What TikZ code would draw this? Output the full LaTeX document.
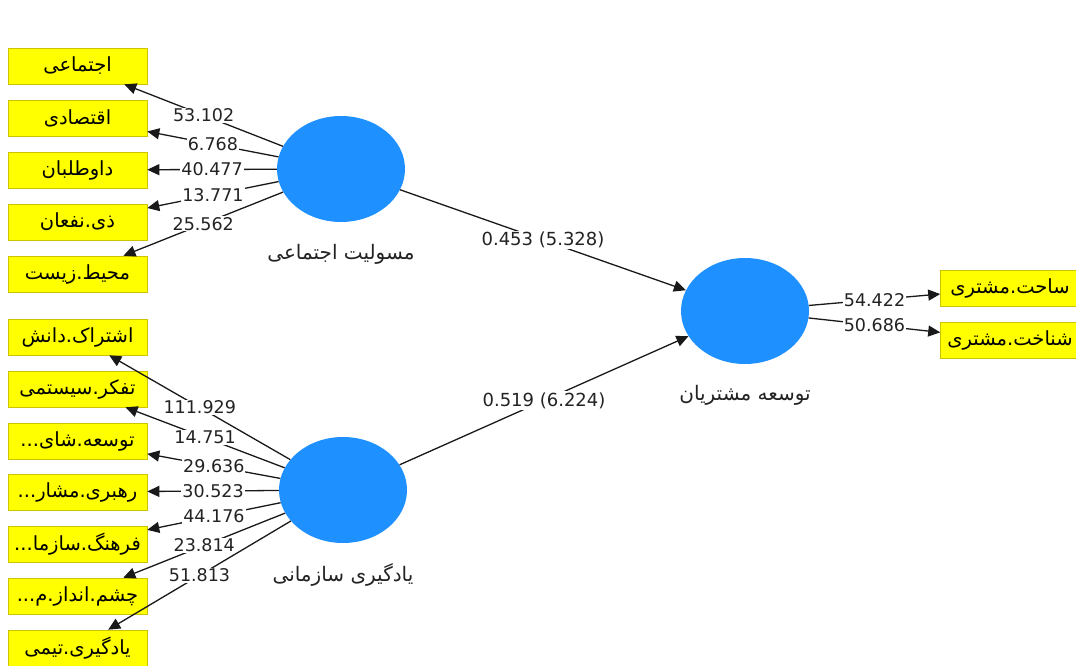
\documentclass[tikz,border=0pt]{standalone}
\usepackage{fontspec}
\setmainfont{DejaVu Sans}
\newfontfamily\fa[Script=Arabic]{DejaVu Sans}
\usetikzlibrary{arrows.meta,shapes.geometric}
\definecolor{lvblue}{RGB}{30,144,255}
\definecolor{mvyellow}{RGB}{255,255,0}
\definecolor{mvedge}{RGB}{205,195,0}
\definecolor{lnk}{RGB}{25,25,25}
\definecolor{txt}{RGB}{35,35,35}
% one Arabic-script word per box; words are given in visual (left-to-right) order
\newcommand\fw[1]{\hbox{#1}}
\tikzset{
  lv/.style={ellipse, fill=lvblue, minimum width=128pt, minimum height=106pt, inner sep=0pt},
  mv/.style={rectangle, fill=mvyellow, draw=mvedge, line width=0.6pt, minimum width=139pt, minimum height=36pt, inner sep=0pt, text=black, font=\fa\fontsize{19.5}{19.5}\selectfont},
  lvname/.style={font=\fa\fontsize{20}{20}\selectfont, text=txt},
  arr/.style={draw=lnk, line width=1.3pt, -{Triangle[length=12pt,width=11pt]}},
  val/.style={fill=white, inner sep=1pt, pos=0.5, text=txt, font=\fontsize{17.5}{17.5}\selectfont},
  pval/.style={val, font=\fontsize{18}{18}\selectfont},
}
\begin{document}
\begin{tikzpicture}[x=1pt,y=-1pt]
\useasboundingbox (0,0) rectangle (1076,666);
\fill[white] (0,0) rectangle (1076,666);

% latent variables
\node[lv] (E1) at (341,169) {};
\node[lv] (E2) at (343,490) {};
\node[lv] (E3) at (745,311) {};
\node[lvname] (N1) at (341,254) {\fw{اجتماعی}\ \fw{مسولیت}};
\node[lvname] (N2) at (343,575) {\fw{سازمانی}\ \fw{یادگیری}};
\node[lvname] (N3) at (745,395) {\fw{مشتریان}\ \fw{توسعه}};

% indicators group 1
\node[mv] (a1) at (77.5,66)  {\fw{اجتماعی}};
\node[mv] (a2) at (77.5,118) {\fw{اقتصادی}};
\node[mv] (a3) at (77.5,170) {\fw{داوطلبان}};
\node[mv] (a4) at (77.5,222) {\fw{نفعان}.\fw{ذی}};
\node[mv] (a5) at (77.5,274) {\fw{زیست}.\fw{محیط}};

% indicators group 2
\node[mv] (b1) at (77.5,337) {\fw{دانش}.\fw{اشتراک}};
\node[mv] (b2) at (77.5,389) {\fw{سیستمی}.\fw{تفکر}};
\node[mv] (b3) at (77.5,441) {...\fw{شای}.\fw{توسعه}};
\node[mv] (b4) at (77.5,492) {...\fw{مشار}.\fw{رهبری}};
\node[mv] (b5) at (77.5,544) {...\fw{سازما}.\fw{فرهنگ}};
\node[mv] (b6) at (77.5,596) {...\fw{م}.\fw{انداز}.\fw{چشم}};
\node[mv] (b7) at (77.5,648) {\fw{تیمی}.\fw{یادگیری}};

% indicators group 3
\node[mv] (c1) at (1010,288) {\fw{مشتری}.\fw{ساحت}};
\node[mv] (c2) at (1010,340) {\fw{مشتری}.\fw{شناخت}};

% loadings
\draw[arr] (E1) -- node[val]{53.102} (a1);
\draw[arr] (E1) -- node[val]{6.768} (a2);
\draw[arr] (E1) -- node[val]{40.477} (a3);
\draw[arr] (E1) -- node[val]{13.771} (a4);
\draw[arr] (E1) -- node[val]{25.562} (a5);

\draw[arr] (E2) -- node[val]{111.929} (b1);
\draw[arr] (E2) -- node[val]{14.751} (b2);
\draw[arr] (E2) -- node[val]{29.636} (b3);
\draw[arr] (E2) -- node[val]{30.523} (b4);
\draw[arr] (E2) -- node[val]{44.176} (b5);
\draw[arr] (E2) -- node[val]{23.814} (b6);
\draw[arr] (E2) -- node[val]{51.813} (b7);

\draw[arr] (E3) -- node[val]{54.422} (c1);
\draw[arr] (E3) -- node[val]{50.686} (c2);

% paths
\draw[arr] (E1) -- node[pval]{0.453 (5.328)} (E3);
\draw[arr] (E2) -- node[pval]{0.519 (6.224)} (E3);
\end{tikzpicture}
\end{document}
